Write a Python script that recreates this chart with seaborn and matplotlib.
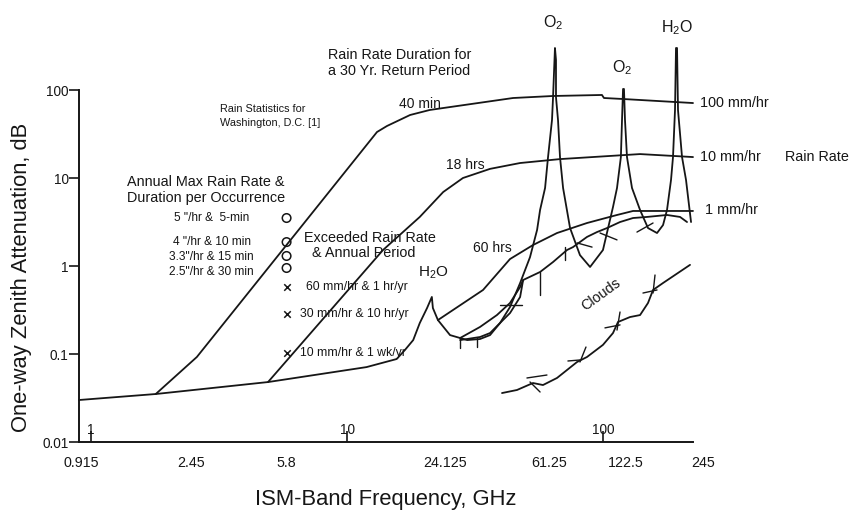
import matplotlib
matplotlib.use("Agg")
import matplotlib.pyplot as plt
from matplotlib.ticker import NullLocator
import pandas as pd
import seaborn as sns

# ---------------- data (frequency in GHz, one-way zenith attenuation in dB) ----------------
clear_air_ghz = [0.898, 1.79, 4.91, 11.9, 15.6, 16.8, 18.1, 19.2, 20.5, 21.4, 21.6, 22.6, 25.2,
                 29.4, 33.0, 36.1, 39.5, 43.2, 47.3, 51.7, 55.1, 56.6, 59.2, 60.8, 63.0, 63.6,
                 64.7, 65.3, 65.3, 66.5, 67.7, 69.6, 74.1, 81.0, 88.7, 99.6, 109.0, 113.0,
                 117.0, 118.2, 119.3, 120.3, 121.4, 123.6, 129.3, 139.0, 149.3, 161.9, 170.9,
                 177.1, 183.6, 186.9, 190.3, 192.0, 193.8, 195.5, 202.7, 210.1, 215.8, 219.8]
clear_air_db = [0.030, 0.0351, 0.048, 0.071, 0.0877, 0.111, 0.144, 0.225, 0.333, 0.445, 0.333,
                0.243, 0.164, 0.144, 0.148, 0.164, 0.225, 0.342, 0.64, 1.26, 2.57, 4.33, 7.7,
                17.3, 45.6, 83.0, 300.0, 219.0, 83.0, 45.6, 17.3, 7.7, 2.7, 1.33, 0.975, 1.52,
                4.68, 7.7, 17.3, 45.6, 102.7, 102.7, 45.6, 17.3, 7.7, 4.33, 2.7, 2.37, 2.92,
                4.33, 9.5, 17.3, 59.0, 300.0, 300.0, 59.0, 17.3, 9.5, 4.93, 3.16]

rain100_ghz = [1.79, 2.59, 13.07, 14.3, 17.6, 21.0, 23.7, 44.4, 63.6, 98.7, 100.5, 119.3, 223.7]
rain100_db = [0.0351, 0.0925, 33.3, 39.0, 52.0, 59.3, 62.4, 81.1, 85.5, 87.8, 81.1, 79.0, 71.1]

rain10_ghz = [4.91, 13.8, 19.2, 23.7, 28.3, 36.1, 47.3, 67.7, 139.0, 223.7]
rain10_db = [0.048, 1.52, 3.61, 6.93, 10.0, 12.7, 14.8, 16.4, 18.7, 17.3]

rain1_ghz = [22.6, 33.9, 43.2, 53.1, 65.9, 86.3, 113.0, 130.5, 223.7]
rain1_db = [0.243, 0.534, 1.20, 1.73, 2.37, 3.08, 3.80, 4.22, 4.22]

cloud_upper_ghz = [27.6, 33.0, 38.4, 43.2, 47.3, 48.6, 56.6, 63.6, 72.1, 76.1, 86.3, 94.4,
                   103.3, 116.1, 130.5, 148.0, 177.1, 199.1, 212.0]
cloud_upper_db = [0.152, 0.203, 0.277, 0.380, 0.577, 0.693, 0.855, 1.11, 1.52, 1.64, 2.14, 2.43,
                  2.70, 3.16, 3.51, 3.61, 3.80, 3.61, 3.16]
cloud_braid_ghz = [27.6, 33.0, 36.1, 39.5, 43.2, 47.3, 48.6]
cloud_braid_db = [0.144, 0.156, 0.173, 0.225, 0.292, 0.444, 0.693]

cloud_lower_ghz = [40.2, 46.0, 53.1, 58.1, 65.9, 78.9, 86.3, 99.6, 109.0, 114.0, 127.0, 139.0,
                   149.3, 156.2, 170.9, 217.8]
cloud_lower_db = [0.036, 0.039, 0.0468, 0.0444, 0.0534, 0.0811, 0.0925, 0.127, 0.173, 0.231,
                  0.263, 0.277, 0.380, 0.534, 0.641, 1.03]

# short hatch strokes crossing the cloud curves: (start GHz, start dB, end GHz, end dB)
cloud_hatch = [
    (27.6, 0.152, 27.6, 0.117), (32.1, 0.152, 32.1, 0.120), (39.5, 0.360, 48.1, 0.360),
    (56.6, 0.855, 56.6, 0.468), (70.8, 1.64, 70.8, 1.17), (78.9, 1.83, 90.3, 1.64),
    (97.0, 2.37, 113.0, 1.98), (135.2, 2.43, 156.2, 3.08),
    (50.3, 0.0534, 60.2, 0.0577), (51.7, 0.0481, 56.6, 0.037), (72.7, 0.0833, 81.0, 0.0855),
    (85.5, 0.120, 81.0, 0.0811), (101.4, 0.198, 116.1, 0.214), (116.1, 0.300, 113.0, 0.187),
    (142.7, 0.493, 161.9, 0.534), (159.0, 0.79, 156.2, 0.493),
]

# Washington, D.C. rain statistics evaluated at 5.8 GHz
stats_ghz = 5.8
occurrence_db = [3.51, 1.87, 1.30, 0.949]
occurrence_labels = ['5 "/hr &  5-min', '4 "/hr & 10 min', '3.3"/hr & 15 min', '2.5"/hr & 30 min']
exceeded_db = [0.577, 0.285, 0.103]
exceeded_labels = ['60 mm/hr & 1 hr/yr', '30 mm/hr & 10 hr/yr', '10 mm/hr & 1 wk/yr']

ism_ghz = [0.915, 2.45, 5.8, 24.125, 61.25, 122.5, 245]
ism_labels = ['0.915', '2.45', '5.8', '24.125', '61.25', '122.5', '245']
decade_ticks = [1, 10, 100]
decade_labels = ['1', '10', '100']
db_ticks = [0.01, 0.1, 1, 10, 100]
db_labels = ['0.01', '0.1', '1', '10', '100']

# ---------------- style ----------------
sns.set_style("white")
plt.rcParams["font.family"] = ["Liberation Sans", "DejaVu Sans"]
plt.rcParams["mathtext.fontset"] = "custom"
plt.rcParams["mathtext.rm"] = "Liberation Sans"
plt.rcParams["mathtext.it"] = "Liberation Sans:italic"
plt.rcParams["mathtext.bf"] = "Liberation Sans:bold"

INK = "#161616"
LW = 1.3

W, H = 852, 512
fig = plt.figure(figsize=(W / 100, H / 100), dpi=100)
ax = fig.add_axes([79 / W, 70 / H, 614 / W, 352 / H])
ax.set_xscale("log")
ax.set_yscale("log")
ax.set_xlim(0.898, 223.7)
ax.set_ylim(0.01, 100)


def curve(x, y):
    df = pd.DataFrame({"GHz": x, "dB": y})
    sns.lineplot(data=df, x="GHz", y="dB", sort=False, estimator=None, color=INK,
                 linewidth=LW, ax=ax, clip_on=False)


curve(clear_air_ghz, clear_air_db)
curve(rain100_ghz, rain100_db)
curve(rain10_ghz, rain10_db)
curve(rain1_ghz, rain1_db)
curve(cloud_upper_ghz, cloud_upper_db)
curve(cloud_braid_ghz, cloud_braid_db)
curve(cloud_lower_ghz, cloud_lower_db)

hatch_rows = []
for i, (x0, y0, x1, y1) in enumerate(cloud_hatch):
    hatch_rows += [{"GHz": x0, "dB": y0, "seg": i}, {"GHz": x1, "dB": y1, "seg": i}]
sns.lineplot(data=pd.DataFrame(hatch_rows), x="GHz", y="dB", units="seg", estimator=None,
             sort=False, color=INK, linewidth=1.0, ax=ax)

# rain statistics markers
sns.scatterplot(x=[stats_ghz] * len(occurrence_db), y=occurrence_db, marker="o", s=38,
                facecolor="none", edgecolor=INK, linewidth=1.1, ax=ax, zorder=5)
sns.scatterplot(x=[stats_ghz] * len(exceeded_db), y=exceeded_db, marker="x", s=22,
                color=INK, linewidth=1.1, ax=ax, zorder=5)

for v, lab, dy in zip(occurrence_db, occurrence_labels, [0, 0, -1, -4]):
    ax.annotate(lab, (stats_ghz, v), xytext=(-75, dy), textcoords="offset pixels",
                ha="center", va="center", fontsize=8.6, color=INK)
for v, lab, dx in zip(exceeded_db, exceeded_labels, [19, 13, 13]):
    ax.annotate(lab, (stats_ghz, v), xytext=(dx, 0), textcoords="offset pixels",
                ha="left", va="center", fontsize=8.8, color=INK)

# ---------------- axes ----------------
ax.set_xlabel("")
ax.set_ylabel("")
ax.set_yticks(db_ticks)
ax.set_yticklabels(db_labels)
ax.set_xticks(decade_ticks)
ax.set_xticklabels(decade_labels)
ax.xaxis.set_minor_locator(NullLocator())
ax.yaxis.set_minor_locator(NullLocator())
ax.tick_params(axis="y", direction="out", length=7, width=1.2, pad=0.5, labelsize=9.8,
               colors=INK, left=True)
ax.tick_params(axis="x", direction="in", length=8, width=1.2, pad=-14, labelsize=9.8,
               colors=INK, bottom=True)
for side in ["top", "right"]:
    ax.spines[side].set_visible(False)
for side in ["left", "bottom"]:
    ax.spines[side].set_linewidth(1.4)
    ax.spines[side].set_color(INK)

for f, lab in zip(ism_ghz, ism_labels):
    ax.annotate(lab, xy=(f, 0), xycoords=("data", "axes fraction"), xytext=(0, -21),
                textcoords="offset pixels", ha="center", va="center", fontsize=10.3,
                color=INK, annotation_clip=False)


def ftext(x, y, s, **kw):
    kw.setdefault("fontsize", 10.4)
    kw.setdefault("va", "center")
    kw.setdefault("color", INK)
    fig.text(x / W, 1 - y / H, s, **kw)


ftext(22, 277, "One-way Zenith Attenuation, dB", rotation=90, ha="center", fontsize=15.8)
ftext(386, 500, "ISM-Band Frequency, GHz", ha="center", fontsize=15.8)

ftext(328, 55, "Rain Rate Duration for", ha="left")
ftext(328, 71, "a 30 Yr. Return Period", ha="left")
ftext(220, 109, "Rain Statistics for", ha="left", fontsize=7.8)
ftext(220, 123, "Washington, D.C. [1]", ha="left", fontsize=7.8)
ftext(127, 182, "Annual Max Rain Rate &", ha="left")
ftext(127, 198, "Duration per Occurrence", ha="left")
ftext(304, 238, "Exceeded Rain Rate", ha="left")
ftext(312, 253, "& Annual Period", ha="left")

ftext(420, 104, "40 min", ha="center", fontsize=10)
ftext(465, 165, "18 hrs", ha="center", fontsize=10)
ftext(492, 248, "60 hrs", ha="center", fontsize=10)

ftext(700, 103, "100 mm/hr", ha="left")
ftext(700, 157, "10 mm/hr", ha="left")
ftext(785, 157, "Rain Rate", ha="left")
ftext(705, 210, "1 mm/hr", ha="left")

ftext(433, 273, r"H$_2$O", ha="center", fontsize=11)
ftext(553, 23, r"O$_2$", ha="center", fontsize=11.5)
ftext(622, 68, r"O$_2$", ha="center", fontsize=11.5)
ftext(677, 28, r"H$_2$O", ha="center", fontsize=11.5)
ftext(601, 295, "Clouds", ha="center", rotation=36, rotation_mode="anchor", fontsize=10.4)

fig.savefig("out.png", dpi=100, facecolor="white")
